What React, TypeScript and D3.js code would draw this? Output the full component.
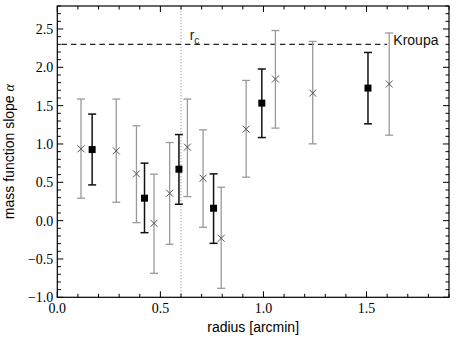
import React from 'react';
import * as d3 from 'd3';

// gray crosses (radius in arcmin, slope, error range)
const crossR = [0.115, 0.286, 0.384, 0.469, 0.545, 0.631, 0.707, 0.795, 0.916, 1.058, 1.239, 1.61];
const crossA = [0.937, 0.91, 0.61, -0.035, 0.358, 0.959, 0.554, -0.23, 1.194, 1.847, 1.664, 1.782];
const crossLo = [0.293, 0.24, -0.026, -0.687, -0.308, 0.314, -0.087, -0.883, 0.567, 1.207, 1.002, 1.115];
const crossHi = [1.586, 1.586, 1.237, 0.606, 1.019, 1.586, 1.185, 0.436, 1.829, 2.48, 2.338, 2.448];

// black squares
const sqR = [0.169, 0.423, 0.59, 0.758, 0.992, 1.507];
const sqA = [0.927, 0.293, 0.671, 0.162, 1.533, 1.729];
const sqLo = [0.466, -0.157, 0.214, -0.296, 1.084, 1.263];
const sqHi = [1.39, 0.75, 1.123, 0.61, 1.978, 2.194];

const xTicks = [0, 0.5, 1.0, 1.5];
const yTicks = [-1.0, -0.5, 0.0, 0.5, 1.0, 1.5, 2.0, 2.5];
const kroupa = 2.3;
const rCore = 0.6;

const W = 458;
const H = 343;
const left = 57.3, right = 449, top = 6, bottom = 297.3;

const fmt = (v: number) => (v < 0 ? '\u2212' : '') + Math.abs(v).toFixed(1);

const App = () => {
  const x = d3.scaleLinear().domain([0, 1.9]).range([left, right]);
  const y = d3.scaleLinear().domain([-1, 2.8]).range([bottom, top]);

  const xMinor = d3.range(0, 1.9001, 0.1).map(v => +v.toFixed(2));
  const yMinor = d3.range(-1, 2.8001, 0.1).map(v => +v.toFixed(2));
  const isMajor = (v: number, arr: number[]) => arr.some(t => Math.abs(t - v) < 1e-6);

  const serif = '"Liberation Serif", "DejaVu Serif", serif';
  const sans = '"Liberation Sans", Arial, sans-serif';

  const errBar = (cx: number, lo: number, hi: number, color: string, w: number, key: string) => (
    <g key={key} stroke={color} strokeWidth={w}>
      <line x1={x(cx)} x2={x(cx)} y1={y(lo)} y2={y(hi)} />
      <line x1={x(cx) - 4} x2={x(cx) + 4} y1={y(lo)} y2={y(lo)} />
      <line x1={x(cx) - 4} x2={x(cx) + 4} y1={y(hi)} y2={y(hi)} />
    </g>
  );

  return (
    <svg width={W} height={H} style={{ position: 'fixed', top: 0, left: 0, background: '#fff' }}>
      {/* core radius */}
      <line x1={x(rCore)} x2={x(rCore)} y1={y(-1)} y2={y(2.8)} stroke="#999" strokeWidth={1.2} strokeDasharray="1,2" />
      <text x={x(0.642)} y={y(2.35)} fontFamily={sans} fontSize={14} fill="#222">
        r<tspan fontSize={10} dy={4}>c</tspan>
      </text>
      {/* Kroupa slope */}
      <line x1={x(0.02)} x2={x(1.6)} y1={y(kroupa)} y2={y(kroupa)} stroke="#222" strokeWidth={1.4} strokeDasharray="5.5,4" />
      <text x={x(1.63)} y={y(kroupa) + 1} fontFamily={sans} fontSize={14} fill="#111">Kroupa</text>

      {crossR.map((r, i) => errBar(r, crossLo[i], crossHi[i], '#9a9a9a', 1.3, 'ce' + i))}
      {crossR.map((r, i) => (
        <g key={'cx' + i} stroke="#555" strokeWidth={1}>
          <line x1={x(r) - 3.5} x2={x(r) + 3.5} y1={y(crossA[i]) - 3.5} y2={y(crossA[i]) + 3.5} />
          <line x1={x(r) - 3.5} x2={x(r) + 3.5} y1={y(crossA[i]) + 3.5} y2={y(crossA[i]) - 3.5} />
        </g>
      ))}
      {sqR.map((r, i) => errBar(r, sqLo[i], sqHi[i], '#111', 1.5, 'se' + i))}
      {sqR.map((r, i) => (
        <rect key={'sq' + i} x={x(r) - 3.5} y={y(sqA[i]) - 3.5} width={7} height={7} fill="#000" />
      ))}

      {/* frame */}
      <rect x={left} y={top} width={right - left} height={bottom - top} fill="none" stroke="#000" strokeWidth={1.2} />

      {/* ticks */}
      <g stroke="#000" strokeWidth={1}>
        {xMinor.map(v => {
          const len = isMajor(v, xTicks) ? 6 : 3.5;
          return (
            <React.Fragment key={'xt' + v}>
              <line x1={x(v)} x2={x(v)} y1={bottom} y2={bottom - len} />
              <line x1={x(v)} x2={x(v)} y1={top} y2={top + len} />
            </React.Fragment>
          );
        })}
        {yMinor.map(v => {
          const len = isMajor(v, yTicks) ? 6 : 3.5;
          return (
            <React.Fragment key={'yt' + v}>
              <line x1={left} x2={left + len} y1={y(v)} y2={y(v)} />
              <line x1={right} x2={right - len} y1={y(v)} y2={y(v)} />
            </React.Fragment>
          );
        })}
      </g>

      {/* tick labels */}
      {xTicks.map(v => (
        <text key={'xl' + v} x={x(v)} y={bottom + 16} textAnchor="middle" fontFamily={serif} fontSize={14} fill="#000">
          {fmt(v)}
        </text>
      ))}
      {yTicks.map(v => (
        <text key={'yl' + v} x={left - 4} y={y(v) + 5} textAnchor="end" fontFamily={serif} fontSize={14} fill="#000">
          {fmt(v)}
        </text>
      ))}

      {/* axis labels */}
      <text x={(left + right) / 2} y={331.5} textAnchor="middle" fontFamily={sans} fontSize={14} fill="#000">
        radius [arcmin]
      </text>
      <text transform={`translate(14,${(top + bottom) / 2}) rotate(-90)`} textAnchor="middle" fontFamily={sans} fontSize={14} fill="#000">
        mass function slope <tspan fontFamily={serif} fontStyle="italic">α</tspan>
      </text>
    </svg>
  );
};

export default App;
